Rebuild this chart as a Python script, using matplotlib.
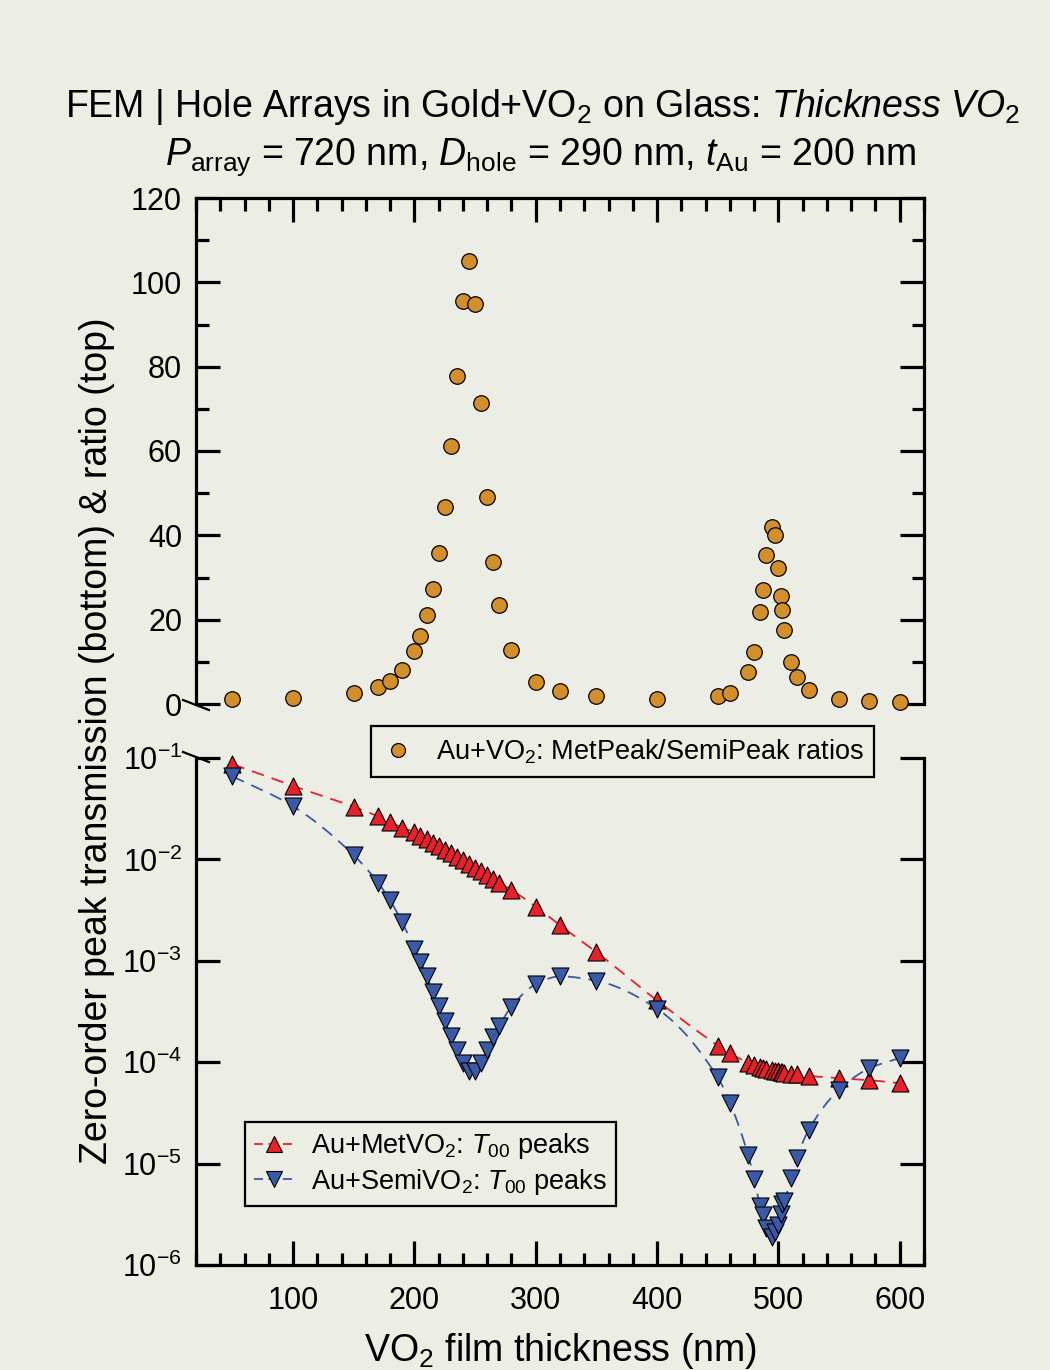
import numpy as np
import matplotlib
matplotlib.use("Agg")
import matplotlib.pyplot as plt
from matplotlib.lines import Line2D
from matplotlib.ticker import MultipleLocator, NullLocator, FixedLocator

plt.rcParams['font.family'] = ['Liberation Sans', 'DejaVu Sans']
plt.rcParams['mathtext.fontset'] = 'custom'
plt.rcParams['mathtext.rm'] = 'Liberation Sans'
plt.rcParams['mathtext.it'] = 'Liberation Sans:italic'
plt.rcParams['mathtext.bf'] = 'Liberation Sans:bold'

# ---------------- data ----------------
thickness = [50, 100, 150, 170, 180, 190, 200, 205, 210, 215, 220, 225, 230, 235,
             240, 245, 250, 255, 260, 265, 270, 280, 300, 320, 350, 400, 450, 460,
             475, 480, 485, 487.5, 490, 495, 497.5, 500, 502, 503, 505, 510, 515,
             525, 550, 575, 600]

ratio = [1.2, 1.4, 2.6, 4.0, 5.5, 8.1, 12.6, 16.2, 21.0, 27.3, 35.8, 46.8, 61.1,
         77.9, 95.6, 105.0, 94.8, 71.4, 49.1, 33.6, 23.5, 12.7, 5.2, 3.0, 1.8, 1.1,
         1.8, 2.7, 7.5, 12.3, 21.7, 27.0, 35.3, 42.0, 40.0, 32.3, 25.6, 22.4, 17.6,
         10.0, 6.3, 3.3, 1.1, 0.6, 0.4]

met_peaks = [0.087, 0.053, 0.033, 0.0266, 0.0233, 0.0206, 0.0186, 0.0172, 0.0158,
             0.0146, 0.0135, 0.0124, 0.0115, 0.0106, 0.0098, 0.0090, 0.0083, 0.0076,
             0.0070, 0.0064, 0.0059, 0.0050, 0.00342, 0.00224, 0.00122, 0.000406,
             0.000146, 0.000122, 0.0000993, 0.0000940, 0.0000902, 0.0000881,
             0.0000865, 0.0000841, 0.0000828, 0.0000813, 0.0000804, 0.0000798,
             0.0000789, 0.0000773, 0.0000759, 0.0000733, 0.0000698, 0.0000665,
             0.0000621]

semi_peaks = [0.066, 0.0334, 0.0110, 0.0059, 0.00394, 0.00239, 0.00132, 0.00097,
              0.00071, 0.000497, 0.000356, 0.000256, 0.000180, 0.000132, 0.0000984,
              0.0000816, 0.0000822, 0.0000993, 0.000133, 0.000176, 0.000229,
              0.000353, 0.000587, 0.000703, 0.000635, 0.000336, 0.0000708,
              0.0000400, 0.0000122, 0.0000071, 0.0000038, 0.0000031, 0.0000023,
              0.0000019, 0.0000021, 0.0000025, 0.0000032, 0.0000040, 0.0000043,
              0.0000072, 0.0000113, 0.0000215, 0.0000535, 0.0000870, 0.000110]

x_major_ticks = [100, 200, 300, 400, 500, 600]
ratio_ticks = [0, 20, 40, 60, 80, 100, 120]
log_ticks = [1e-6, 1e-5, 1e-4, 1e-3, 1e-2, 1e-1]
log_tick_labels = [r'$10^{-6}$', r'$10^{-5}$', r'$10^{-4}$', r'$10^{-3}$',
                   r'$10^{-2}$', r'$10^{-1}$']

# ---------------- style ----------------
BG = '#ECEDE4'
ORANGE = '#D28F2B'
RED = '#E8202A'
BLUE = '#3A5AA8'
W, H = 1050, 1370


def pchip(x, y, xs):
    x = np.asarray(x, float)
    y = np.asarray(y, float)
    h = np.diff(x)
    d = np.diff(y) / h
    n = len(x)
    m = np.zeros(n)
    for k in range(1, n - 1):
        if d[k - 1] * d[k] > 0:
            w1 = 2 * h[k] + h[k - 1]
            w2 = h[k] + 2 * h[k - 1]
            m[k] = (w1 + w2) / (w1 / d[k - 1] + w2 / d[k])
    m[0] = d[0]
    m[-1] = d[-1]
    idx = np.clip(np.searchsorted(x, xs) - 1, 0, n - 2)
    t = (xs - x[idx]) / h[idx]
    h00 = 2 * t**3 - 3 * t**2 + 1
    h10 = t**3 - 2 * t**2 + t
    h01 = -2 * t**3 + 3 * t**2
    h11 = t**3 - t**2
    return h00 * y[idx] + h10 * h[idx] * m[idx] + h01 * y[idx + 1] + h11 * h[idx] * m[idx + 1]


fig = plt.figure(figsize=(W / 100, H / 100), dpi=100, facecolor=BG)

L, R = 196 / W, 924 / W
ax1 = fig.add_axes([L, 1 - 704 / H, R - L, (704 - 198) / H], facecolor=BG)
ax2 = fig.add_axes([L, 1 - 1265 / H, R - L, (1265 - 758) / H], facecolor=BG)

SPW = 2.3
for ax in (ax1, ax2):
    for s in ax.spines.values():
        s.set_linewidth(SPW)
    ax.set_xlim(20, 620)
    ax.xaxis.set_major_locator(FixedLocator(x_major_ticks))
    ax.xaxis.set_minor_locator(MultipleLocator(20))
    ax.tick_params(which='major', length=17, width=SPW, direction='in', labelsize=22, pad=10)
    ax.tick_params(which='minor', length=9, width=SPW, direction='in')

# top panel
ax1.spines['bottom'].set_visible(False)
ax1.set_ylim(0, 120)
ax1.yaxis.set_major_locator(FixedLocator(ratio_ticks))
ax1.yaxis.set_minor_locator(MultipleLocator(10))
ax1.tick_params(axis='x', which='both', bottom=False, top=True, labelbottom=False)
ax1.tick_params(axis='y', which='both', left=True, right=True)
ax1.scatter(thickness, ratio, s=125, color=ORANGE, edgecolor='black', linewidth=0.9,
            zorder=3, clip_on=False)

# bottom panel
ax2.spines['top'].set_visible(False)
ax2.set_yscale('log')
ax2.set_ylim(1e-6, 1e-1)
ax2.set_yticks(log_ticks)
ax2.set_yticklabels(log_tick_labels)
ax2.yaxis.set_minor_locator(NullLocator())
ax2.tick_params(axis='x', which='both', bottom=True, top=False)
ax2.tick_params(axis='x', which='major', pad=15)
ax2.tick_params(axis='y', which='both', left=True, right=True)

xs = np.linspace(min(thickness), max(thickness), 1500)
met_line = 10 ** pchip(thickness, np.log10(met_peaks), xs)
semi_line = 10 ** pchip(thickness, np.log10(semi_peaks), xs)
ax2.plot(xs, met_line, color=RED, lw=1.3, dashes=(7, 4.5), zorder=2)
ax2.plot(xs, semi_line, color=BLUE, lw=1.3, dashes=(7, 4.5), zorder=2)
ax2.scatter(thickness, met_peaks, marker='^', s=150, color=RED, edgecolor='black',
            linewidth=0.8, zorder=3, clip_on=False)
ax2.scatter(thickness, semi_peaks, marker='v', s=150, color=BLUE, edgecolor='black',
            linewidth=0.8, zorder=3, clip_on=False)

ax2.set_xticklabels([str(v) for v in x_major_ticks])

fig.text(97 / W, 1 - 741 / H, 'Zero-order peak transmission (bottom) & ratio (top)',
         rotation=90, ha='center', va='center', fontsize=27)
fig.text(560 / W, 1 - 1351 / H, r'VO$_2$ film thickness (nm)', ha='center',
         va='center', fontsize=27)

# title
fig.text(542 / W, 1 - 107 / H,
         r'FEM | Hole Arrays in Gold+VO$_2$ on Glass: $\mathit{Thickness}$ $\mathit{VO}_2$',
         ha='center', va='center', fontsize=27)
fig.text(541 / W, 1 - 157 / H,
         r'$P_{\mathrm{array}}$ = 720 nm, $D_{\mathrm{hole}}$ = 290 nm, $t_{\mathrm{Au}}$ = 200 nm',
         ha='center', va='center', fontsize=27)

# axis break marks
for (x1, y1, x2, y2) in [(183, 700, 209, 710), (183, 752, 209, 762)]:
    fig.add_artist(Line2D([x1 / W, x2 / W], [1 - y1 / H, 1 - y2 / H],
                          transform=fig.transFigure, color='black', lw=1.6))

# legends
h_ratio = Line2D([], [], ls='none', marker='o', ms=10, mfc=ORANGE, mec='black', mew=0.9)
leg1 = fig.legend([h_ratio], [r'Au+VO$_2$: MetPeak/SemiPeak ratios'], loc='center',
                  bbox_to_anchor=(622.5 / W, 1 - 751.5 / H), fontsize=19.5,
                  frameon=True, fancybox=False, edgecolor='black', facecolor=BG,
                  framealpha=1, handlelength=1.2, handletextpad=0.8, borderpad=0.4)
leg1.get_frame().set_linewidth(1.6)

h_met = Line2D([], [], color=RED, lw=1.3, dashes=(5, 3), marker='^', ms=12,
               mfc=RED, mec='black', mew=0.8)
h_semi = Line2D([], [], color=BLUE, lw=1.3, dashes=(5, 3), marker='v', ms=12,
                mfc=BLUE, mec='black', mew=0.8)
leg2 = ax2.legend([h_met, h_semi],
                  [r'Au+MetVO$_2$: $T_{00}$ peaks', r'Au+SemiVO$_2$: $T_{00}$ peaks'],
                  loc='center', bbox_to_anchor=(430.5 / W, 1 - 1164 / H),
                  bbox_transform=fig.transFigure, fontsize=19.5, frameon=True,
                  fancybox=False, edgecolor='black', facecolor=BG, framealpha=1,
                  handlelength=1.5, handletextpad=0.6, borderpad=0.35, labelspacing=0.2,
                  borderaxespad=0.3)
leg2.get_frame().set_linewidth(1.6)

fig.savefig('out.png', dpi=100, facecolor=BG)
